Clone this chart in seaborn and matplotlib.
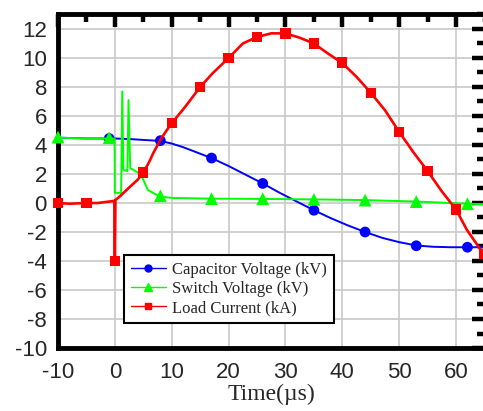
import matplotlib
matplotlib.use("Agg")
import matplotlib.pyplot as plt
from matplotlib.lines import Line2D
from matplotlib.ticker import MultipleLocator
import seaborn as sns

# ---- Capacitor voltage (kV) ----
cap_t = [-10, -9.5, -5, -1, 0, 3, 5, 8, 10, 12, 14, 17, 20, 23, 26, 29, 32, 35,
         38, 41, 44, 47, 50, 53, 56, 59, 62, 65]
cap_v = [4.75, 4.5, 4.45, 4.45, 4.45, 4.4, 4.35, 4.28, 4.1, 3.85, 3.55, 3.1, 2.55,
         1.95, 1.35, 0.7, 0.1, -0.5, -1.05, -1.55, -2.0, -2.4, -2.7, -2.93, -3.02,
         -3.05, -3.05, -3.05]
cap_mark_t = [-1, 8, 17, 26, 35, 44, 53, 62]
cap_mark_v = [4.45, 4.3, 3.1, 1.35, -0.5, -2.0, -2.95, -3.05]

# ---- Switch voltage (kV) ----
sw_t = [-10, -9.5, -5, -1, -0.05, 0, 1.1, 1.3, 1.5, 2.2, 2.4, 2.7, 3.2, 4.5, 5,
        5.8, 7.4, 8, 10, 17, 26, 35, 44, 53, 62, 65]
sw_v = [4.6, 4.5, 4.45, 4.45, 4.45, 0.7, 0.7, 7.7, 2.3, 2.2, 7.1, 2.4, 2.3, 2.0,
        1.6, 0.9, 0.55, 0.45, 0.35, 0.3, 0.28, 0.25, 0.2, 0.1, -0.05, -0.08]
sw_mark_t = [-10, -1, 8, 17, 26, 35, 44, 53, 62]
sw_mark_v = [4.55, 4.5, 0.5, 0.3, 0.3, 0.25, 0.2, 0.1, -0.05]

# ---- Load current (kA) ----
ld_t = [-10, -8, -5, -3, -1, -0.1, 0, 0.1, 1, 2.6, 4, 5, 6, 6.7, 8, 9, 10, 12.3,
        15, 17.2, 20, 22.5, 25, 27.5, 30, 32.5, 35, 37.5, 40, 42.5, 45, 47.5, 50,
        52.5, 55, 57.5, 60, 61.9, 64.1, 65]
ld_i = [0.0, -0.05, 0.0, 0.0, 0.1, 0.15, -4.0, 0.2, 0.5, 1.1, 1.6, 2.1, 2.8, 3.4,
        4.35, 4.95, 5.5, 6.6, 8.0, 8.95, 10.0, 11.0, 11.45, 11.7, 11.7, 11.4, 11.0,
        10.3, 9.65, 8.7, 7.6, 6.4, 4.9, 3.5, 2.2, 0.8, -0.45, -1.85, -3.1, -3.5]
ld_mark_t = [-10, -5, 0, 5, 10, 15, 20, 25, 30, 35, 40, 45, 50, 55, 60, 65]
ld_mark_i = [0.0, 0.0, -4.0, 2.1, 5.5, 8.0, 10.0, 11.45, 11.7, 11.0, 9.7, 7.6, 4.9,
             2.2, -0.45, -3.5]

series_labels = ["Capacitor Voltage (kV)", "Switch Voltage (kV)", "Load Current (kA)"]
x_ticks = [-10, 0, 10, 20, 30, 40, 50, 60]
y_ticks = [-10, -8, -6, -4, -2, 0, 2, 4, 6, 8, 10, 12]

BLUE, GREEN, RED = "#0000ff", "#00ff00", "#ff0000"

sns.set_style("white")
plt.rcParams["font.family"] = ["Liberation Sans", "DejaVu Sans"]
plt.rcParams["axes.unicode_minus"] = False

fig = plt.figure(figsize=(4.83, 4.11), dpi=100)
ax = fig.add_axes([58 / 483, 63 / 411, 426.5 / 483, 333.5 / 411])

sns.lineplot(x=cap_t, y=cap_v, ax=ax, color=BLUE, lw=1.4, estimator=None, sort=False, zorder=3)
sns.scatterplot(x=cap_mark_t, y=cap_mark_v, ax=ax, color=BLUE, marker="o", s=60,
                edgecolor="none", zorder=4, clip_on=False)
sns.lineplot(x=sw_t, y=sw_v, ax=ax, color=GREEN, lw=1.4, estimator=None, sort=False, zorder=5)
sns.scatterplot(x=sw_mark_t, y=sw_mark_v, ax=ax, color=GREEN, marker="^", s=85,
                edgecolor="none", zorder=6, clip_on=False)
sns.lineplot(x=ld_t, y=ld_i, ax=ax, color=RED, lw=1.9, estimator=None, sort=False, zorder=7)
sns.scatterplot(x=ld_mark_t, y=ld_mark_i, ax=ax, color=RED, marker="s", s=55,
                edgecolor="none", zorder=8, clip_on=False)

ax.set_xlim(-10, 65)
ax.set_ylim(-10, 13)
ax.set_xticks(x_ticks)
ax.set_yticks(y_ticks)
ax.xaxis.set_minor_locator(MultipleLocator(5))
ax.yaxis.set_minor_locator(MultipleLocator(1))
ax.grid(True, which="major", color="#c8c8c8", lw=1.2)
ax.set_axisbelow(True)
for sp in ax.spines.values():
    sp.set_linewidth(3.5)
    sp.set_color("black")
    sp.set_zorder(2.5)
ax.tick_params(which="both", direction="in", top=True, right=True, width=3.2, color="black")
ax.tick_params(which="major", length=9.5)
ax.tick_params(which="minor", length=5.5)
ax.tick_params(axis="x", labelsize=16, pad=10)
ax.tick_params(axis="y", labelsize=16, pad=8)

ax.set_xlabel("Time(µs)", family="Liberation Serif", fontsize=17, labelpad=1)
ax.set_ylabel("")

handles = [
    Line2D([], [], color=BLUE, marker="o", ms=5, lw=1),
    Line2D([], [], color=GREEN, marker="^", ms=6, lw=1),
    Line2D([], [], color=RED, marker="s", ms=5, lw=1),
]
leg = ax.legend(handles, series_labels, loc="lower left", bbox_to_anchor=(0.155, 0.075),
                borderaxespad=0, frameon=True, fancybox=False, framealpha=1,
                prop={"family": "Liberation Serif", "size": 12},
                handlelength=2.1, handletextpad=0.4, borderpad=0.4, labelspacing=0.2)
leg.get_frame().set_edgecolor("black")
leg.get_frame().set_linewidth(1.5)
leg.set_zorder(10)

fig.savefig("out.png", dpi=100)
